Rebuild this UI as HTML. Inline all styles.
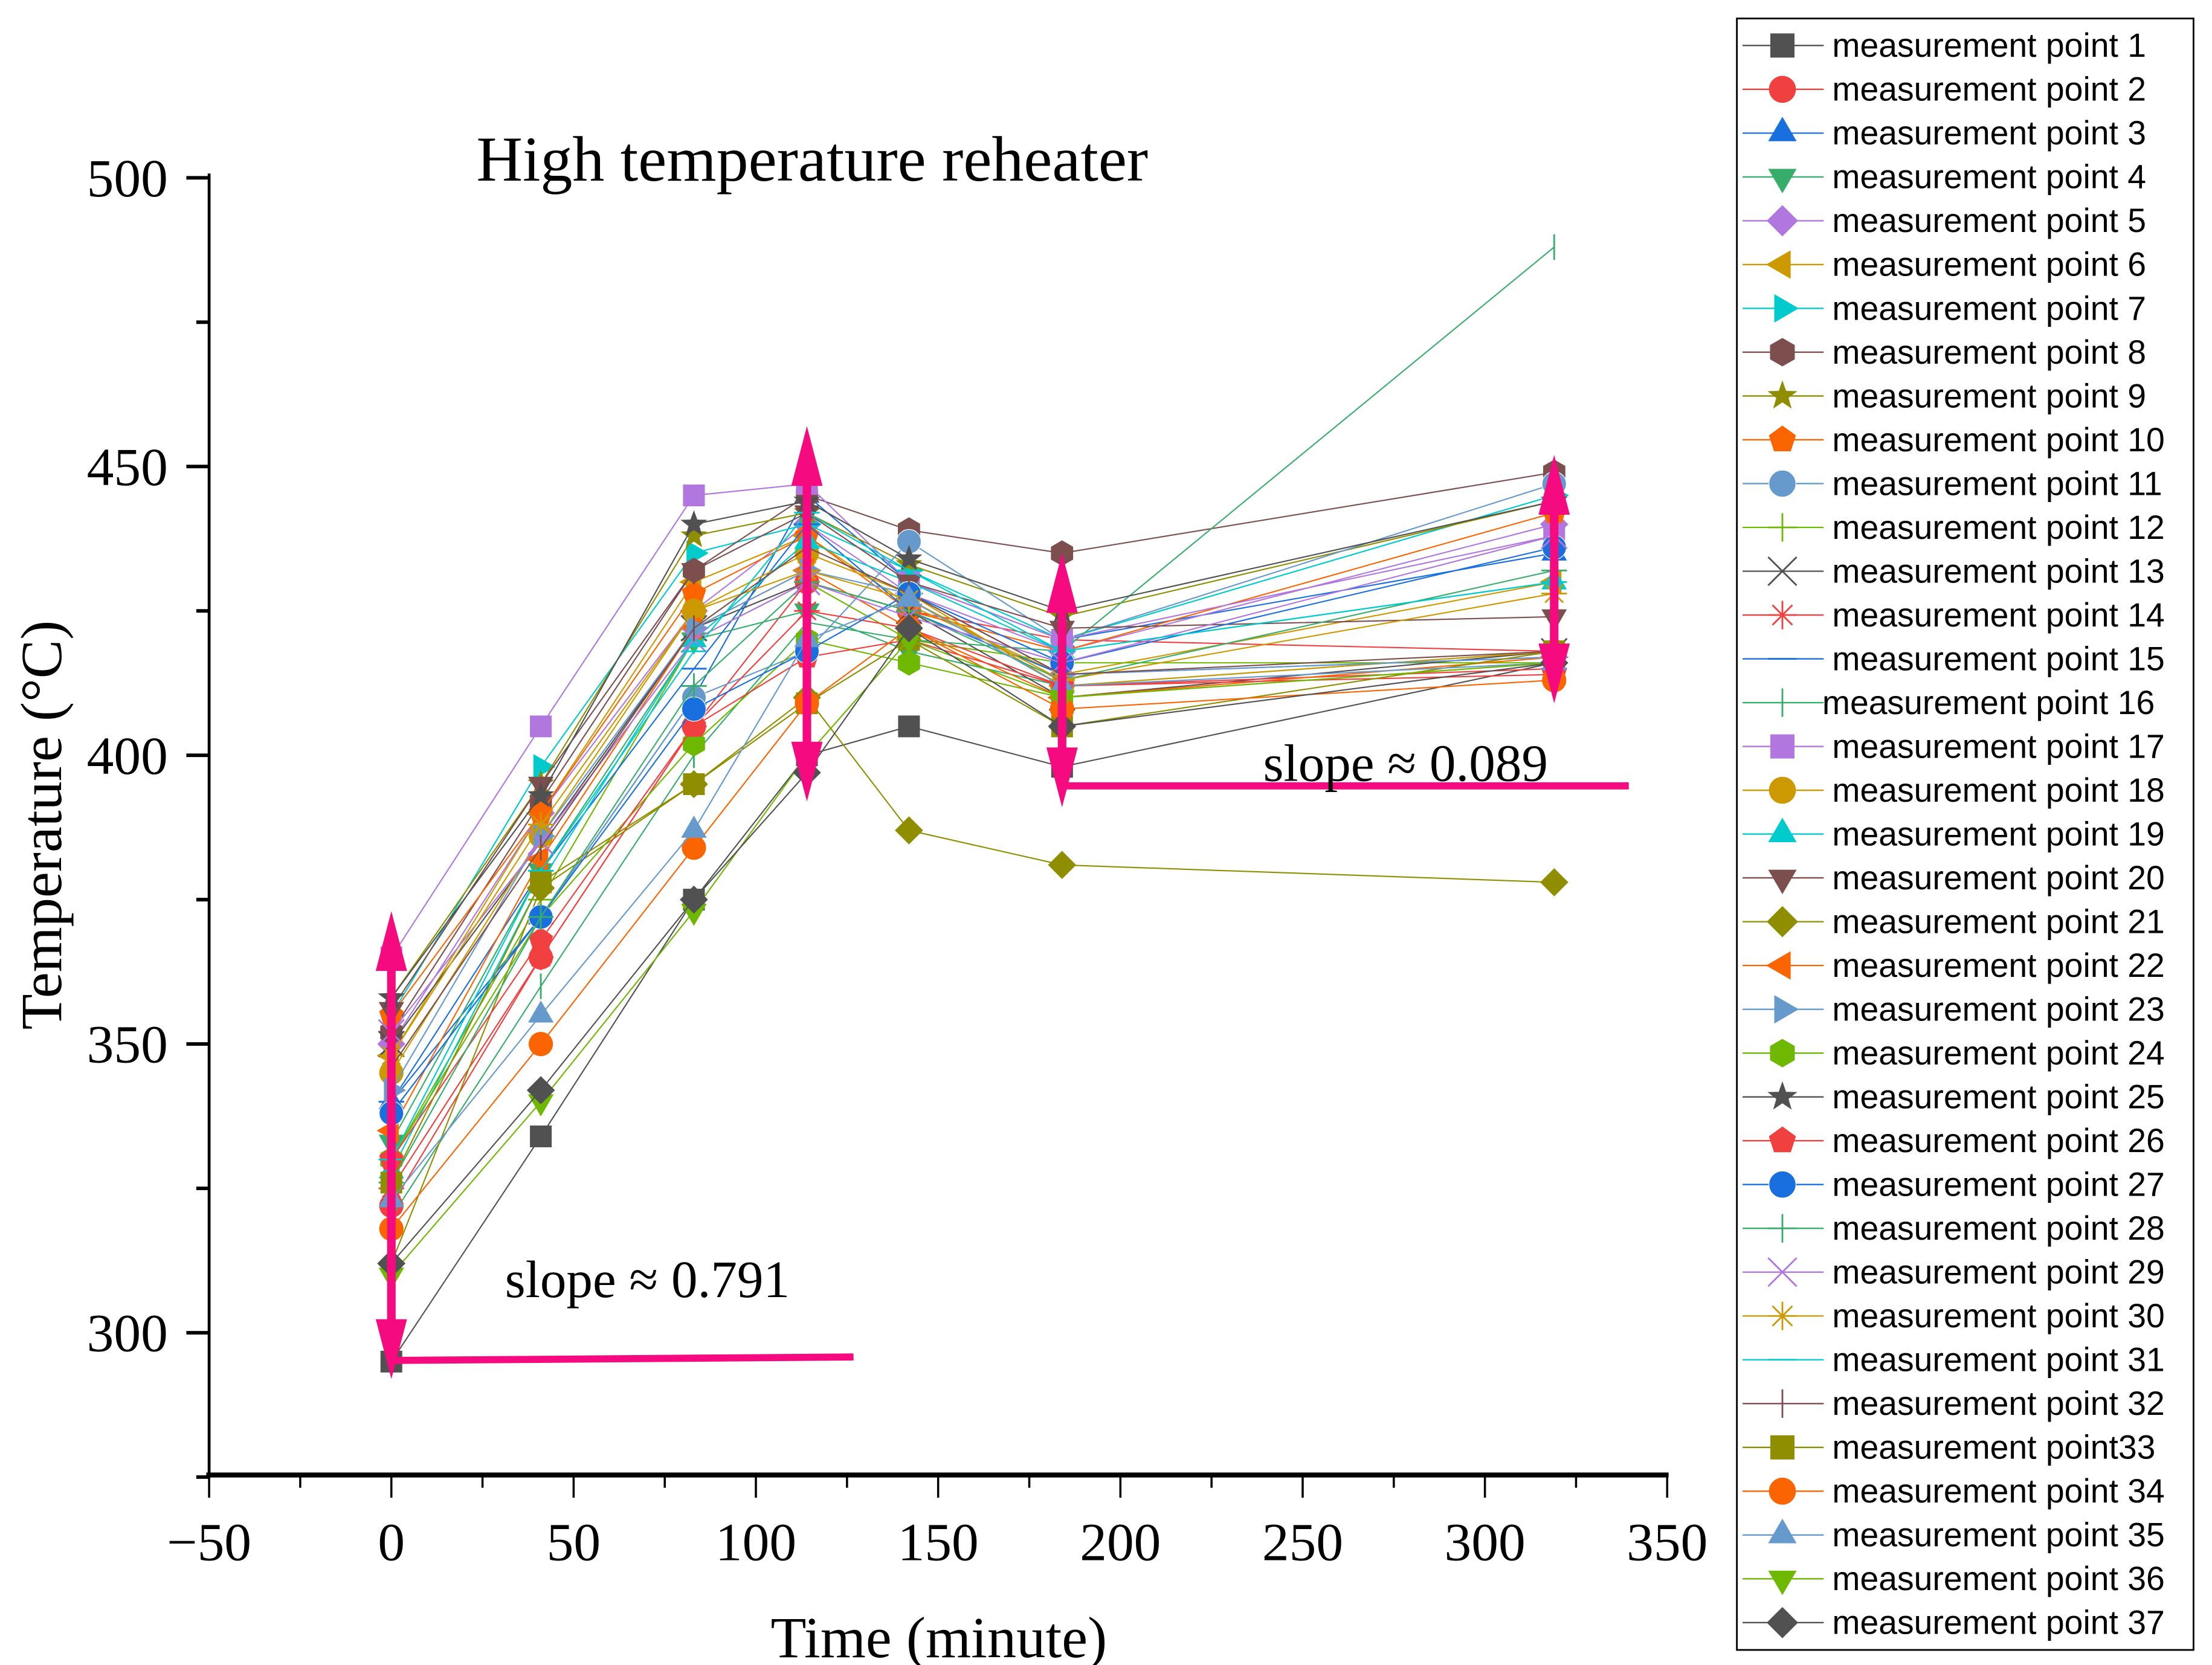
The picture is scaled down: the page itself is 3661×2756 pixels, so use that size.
<!DOCTYPE html>
<html><head><meta charset="utf-8"><style>
html,body{margin:0;padding:0;background:#fff;}
svg{display:block;}
</style></head><body>
<svg id="chart" width="3661" height="2756" viewBox="0 0 1555 1170.6" preserveAspectRatio="none" xmlns="http://www.w3.org/2000/svg">
<g id="plot"></g>
<g id="axes"></g>
<g id="legend"></g>
</svg>
<script>
const times = [0, 41, 83, 114, 142, 184, 319];
const seriesNames = ["measurement point 1","measurement point 2","measurement point 3","measurement point 4","measurement point 5","measurement point 6","measurement point 7","measurement point 8","measurement point 9","measurement point 10","measurement point 11","measurement point 12","measurement point 13","measurement point 14","measurement point 15","measurement point 16","measurement point 17","measurement point 18","measurement point 19","measurement point 20","measurement point 21","measurement point 22","measurement point 23","measurement point 24","measurement point 25","measurement point 26","measurement point 27","measurement point 28","measurement point 29","measurement point 30","measurement point 31","measurement point 32","measurement point33","measurement point 34","measurement point 35","measurement point 36","measurement point 37"];
const s1 = [295,334,375,400,405,398,416];
const s2 = [322,365,405,430,425,420,418];
const s3 = [340,372,410,445,430,420,435];
const s4 = [333,380,420,425,418,412,418];
const s5 = [350,390,425,440,428,418,440];
const s6 = [348,390,430,438,426,414,430];
const s7 = [355,398,435,440,432,420,445];
const s8 = [352,392,432,445,439,435,449];
const s9 = [358,395,438,442,433,424,444];
const s10 = [355,390,428,438,425,418,442];
const s11 = [338,372,410,418,437,420,447];
const s12 = [330,375,420,430,420,416,416];
const s13 = [350,385,422,430,425,410,418];
const s14 = [325,365,405,425,422,412,415];
const s15 = [340,380,415,440,425,414,417];
const s16 = [320,360,400,423,420,418,488];
const s17 = [365,405,445,447,430,420,438];
const s18 = [345,386,425,435,428,412,418];
const s19 = [328,378,420,437,430,418,430];
const s20 = [356,395,432,442,430,422,424];
const s21 = [312,377,395,410,387,381,378];
const s22 = [335,382,422,432,422,410,417];
const s23 = [342,386,422,432,428,414,417];
const s24 = [330,372,402,420,416,410,416];
const s25 = [358,393,440,444,434,425,444];
const s26 = [330,368,405,417,420,412,414];
const s27 = [338,372,408,418,428,416,436];
const s28 = [326,372,412,430,425,413,432];
const s29 = [352,385,420,430,424,416,438];
const s30 = [348,388,425,432,427,413,428];
const s31 = [330,380,418,442,432,418,430];
const s32 = [346,384,422,436,428,414,418];
const s33 = [326,378,395,409,420,405,418];
const s34 = [318,350,384,409,422,408,413];
const s35 = [323,355,387,420,427,412,416];
const s36 = [310,340,373,400,420,410,416];
const s37 = [312,342,375,397,422,405,416];
const seriesValues = [s1,s2,s3,s4,s5,s6,s7,s8,s9,s10,s11,s12,s13,s14,s15,s16,s17,s18,s19,s20,s21,s22,s23,s24,s25,s26,s27,s28,s29,s30,s31,s32,s33,s34,s35,s36,s37];
const xTicks = [-50,0,50,100,150,200,250,300,350];
const yTicks = [300,350,400,450,500];
const slopeLabels = ["slope ≈ 0.791","slope ≈ 0.089"];

const palette = ["#515151","#F14040","#1A6FDF","#37AD6B","#B177DE","#CC9900","#00CBCC","#7D4E4E","#8E8E00","#FB6501","#6699CC","#6FB802"];
const shapes = ["square","circle","tri-up","tri-down","diamond","tri-left","tri-right","hexagon","star","pentagon","sphere","plus","cross","asterisk","dash","vbar"];

const NS = "http://www.w3.org/2000/svg";
function X(t){ return 147 + (t + 50) * 1025 / 400; }
function Y(v){ return 937 - (v - 300) * 812 / 200; }
function el(tag, attrs, parent){ const e = document.createElementNS(NS, tag); for (const k in attrs) e.setAttribute(k, attrs[k]); parent.appendChild(e); return e; }

function poly(n, r, rot){ const p=[]; for(let i=0;i<n;i++){ const a=rot+i*2*Math.PI/n; p.push([Math.cos(a)*r, Math.sin(a)*r]); } return p; }
function marker(g, shape, cx, cy, c, r){
  let e;
  const P = pts => pts.map(p => (cx+p[0]).toFixed(1)+","+(cy+p[1]).toFixed(1)).join(" ");
  switch(shape){
    case "square": e = el("rect",{x:cx-r*0.85,y:cy-r*0.85,width:r*1.7,height:r*1.7,fill:c},g); break;
    case "circle": e = el("circle",{cx:cx,cy:cy,r:r*0.95,fill:c},g); break;
    case "sphere": e = el("circle",{cx:cx,cy:cy,r:r*0.95,fill:c,stroke:"#fff","stroke-width":0.5},g); break;
    case "tri-up": e = el("polygon",{points:P(poly(3,r*1.15,-Math.PI/2)),fill:c},g); break;
    case "tri-down": e = el("polygon",{points:P(poly(3,r*1.15,Math.PI/2)),fill:c},g); break;
    case "tri-left": e = el("polygon",{points:P(poly(3,r*1.15,Math.PI)),fill:c},g); break;
    case "tri-right": e = el("polygon",{points:P(poly(3,r*1.15,0)),fill:c},g); break;
    case "diamond": e = el("polygon",{points:P(poly(4,r*1.1,0)),fill:c},g); break;
    case "hexagon": e = el("polygon",{points:P(poly(6,r,-Math.PI/2)),fill:c},g); break;
    case "pentagon": e = el("polygon",{points:P(poly(5,r,-Math.PI/2)),fill:c},g); break;
    case "star": { const p=[]; for(let i=0;i<10;i++){ const a=-Math.PI/2+i*Math.PI/5; const rr=i%2?r*0.45:r*1.1; p.push([Math.cos(a)*rr,Math.sin(a)*rr]); } e = el("polygon",{points:P(p),fill:c},g); break; }
    case "plus": e = el("path",{d:`M${cx-r} ${cy}H${cx+r}M${cx} ${cy-r}V${cy+r}`,stroke:c,"stroke-width":1.2,fill:"none"},g); break;
    case "cross": e = el("path",{d:`M${cx-r} ${cy-r}L${cx+r} ${cy+r}M${cx-r} ${cy+r}L${cx+r} ${cy-r}`,stroke:c,"stroke-width":1.2,fill:"none"},g); break;
    case "asterisk": e = el("path",{d:`M${cx-r} ${cy}H${cx+r}M${cx-r*0.7} ${cy-r*0.7}L${cx+r*0.7} ${cy+r*0.7}M${cx-r*0.7} ${cy+r*0.7}L${cx+r*0.7} ${cy-r*0.7}M${cx} ${cy-r}V${cy+r}`,stroke:c,"stroke-width":1.2,fill:"none"},g); break;
    case "dash": e = el("path",{d:`M${cx-r} ${cy}H${cx+r}`,stroke:c,"stroke-width":1.2},g); break;
    case "vbar": e = el("path",{d:`M${cx} ${cy-r}V${cy+r}`,stroke:c,"stroke-width":1.2},g); break;
  }
  return e;
}

const plot = document.getElementById("plot");
const axes = document.getElementById("axes");
const legend = document.getElementById("legend");

seriesValues.forEach((vals, i) => {
  const c = palette[i % 12], sh = shapes[i % 16];
  const g = el("g", {}, plot);
  
  
  const pts = vals.map((v,j) => X(times[j]).toFixed(1)+","+Y(v).toFixed(1)).join(" ");
  const line = el("polyline", {points:pts, fill:"none", stroke:c, "stroke-width":0.9}, g);
  
  
  vals.forEach((v,j) => {
    const m = marker(g, sh, X(times[j]), Y(v), c, 9);
    
    
  });
});

const pink = "#F50A7F";
function vArrow(t, v1, v2){
  const g = el("g", {}, plot);
  
  
  const x = X(t), ya = Y(v2), yb = Y(v1);
  el("line", {x1:x, y1:ya+20, x2:x, y2:yb-20, stroke:pink, "stroke-width":6}, g);
  el("polygon", {points:`${x},${ya} ${x-11},${ya+42} ${x+11},${ya+42}`, fill:pink}, g);
  el("polygon", {points:`${x},${yb} ${x-11},${yb-42} ${x+11},${yb-42}`, fill:pink}, g);
}
vArrow(0, 292, 373);
vArrow(114, 392, 457);
vArrow(184, 391, 435);
vArrow(319, 409, 452);
const h1 = el("line", {x1:X(0), y1:Y(295.2), x2:600, y2:Y(295.8), stroke:pink, "stroke-width":5}, plot);


const h2 = el("line", {x1:749, y1:Y(394.7), x2:1145, y2:Y(394.7), stroke:pink, "stroke-width":5}, plot);


const t1 = el("text", {x:355, y:912, "font-family":"Liberation Serif, serif", "font-size":37}, plot);
t1.textContent = slopeLabels[0];


const t2 = el("text", {x:888, y:549, "font-family":"Liberation Serif, serif", "font-size":37}, plot);
t2.textContent = slopeLabels[1];



el("line", {x1:147, y1:122, x2:147, y2:1039, stroke:"#000", "stroke-width":2}, axes);
el("line", {x1:145, y1:1037, x2:1173, y2:1037, stroke:"#000", "stroke-width":3.5}, axes);
for (let t=-50; t<=350; t+=25){
  const major = t % 50 === 0;
  el("line", {x1:X(t), y1:1037, x2:X(t), y2:1037+(major?16:9), stroke:"#000", "stroke-width":1.5}, axes);
}
xTicks.forEach(t => {
  const tx = el("text", {x:X(t), y:1097, "text-anchor":"middle", "font-family":"Liberation Serif, serif", "font-size":38}, axes);
  tx.textContent = t < 0 ? "\u2212" + Math.abs(t) : String(t);
  
  
});
for (let v=275; v<=500; v+=25){
  const major = v % 50 === 0;
  el("line", {x1:147-(major?16:9), y1:Y(v), x2:147, y2:Y(v), stroke:"#000", "stroke-width":2.5}, axes);
}
yTicks.forEach(v => {
  const tx = el("text", {x:118, y:Y(v)+13, "text-anchor":"end", "font-family":"Liberation Serif, serif", "font-size":38}, axes);
  tx.textContent = String(v);
  
  
});
const xt = el("text", {x:660, y:1165, "text-anchor":"middle", "font-family":"Liberation Serif, serif", "font-size":41}, axes);
xt.textContent = "Time (minute)";


const yt = el("text", {x:0, y:0, "text-anchor":"middle", "font-family":"Liberation Serif, serif", "font-size":41, transform:"translate(43,580) rotate(-90)"}, axes);
yt.textContent = "Temperature (°C)";


const ct = el("text", {x:571, y:127, "text-anchor":"middle", "font-family":"Liberation Serif, serif", "font-size":45}, axes);
ct.textContent = "High temperature reheater";



const lb = el("rect", {x:1221, y:13, width:321, height:1147, fill:"#fff", stroke:"#000", "stroke-width":1.2}, legend);


seriesNames.forEach((name, i) => {
  const c = palette[i % 12], sh = shapes[i % 16];
  const y = 32 + i * 30.8;
  const g = el("g", {}, legend);
  
  
  el("line", {x1:1225, y1:y, x2:1282, y2:y, stroke:c, "stroke-width":1}, g);
  marker(g, sh, 1253, y, c, 10);
  const tx = el("text", {x: i===15 ? 1281 : 1288, y:y+8, "font-family":"Liberation Sans, sans-serif", "font-size":23.5}, g);
  tx.textContent = name;
});
</script>
</body></html>
